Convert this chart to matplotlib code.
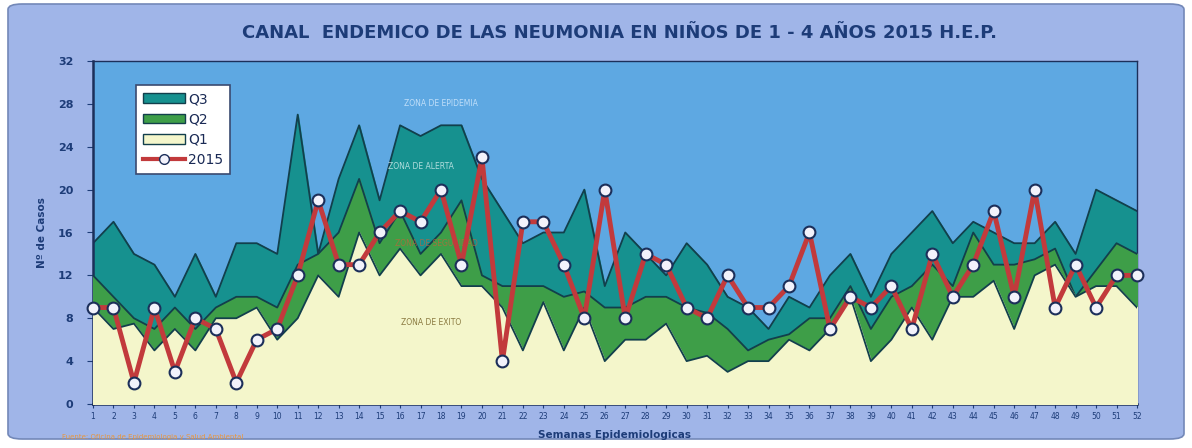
import matplotlib
matplotlib.use("Agg")
import matplotlib.pyplot as plt
from matplotlib.patches import FancyBboxPatch, Patch
from matplotlib.lines import Line2D

weeks = list(range(1, 53))
q3 = [15, 17, 14, 13, 10, 14, 10, 15, 15, 14,
      27, 14, 21, 26, 19, 26, 25, 26, 26, 21,
      18, 15, 16, 16, 20, 11, 16, 14, 12, 15,
      13, 10, 9, 7, 10, 9, 12, 14, 10, 14,
      16, 18, 15, 17, 16, 15, 15, 17, 14, 20,
      19, 18]
q2 = [12, 10, 8, 7, 9, 7, 9, 10, 10, 9,
      13, 14, 16, 21, 15, 18, 14, 16, 19, 12,
      11, 11, 11, 10, 10.5, 9, 9, 10, 10, 9,
      8.5, 7, 5, 6, 6.5, 8, 8, 11, 7, 10,
      11, 13, 11, 16, 13, 13, 13.5, 14.5, 10, 12.5,
      15, 14]
q1 = [9, 7, 7.5, 5, 7, 5, 8, 8, 9, 6,
      8, 12, 10, 16, 12, 14.5, 12, 14, 11, 11,
      9, 5, 9.5, 5, 9, 4, 6, 6, 7.5, 4,
      4.5, 3, 4, 4, 6, 5, 7, 10, 4, 6,
      9, 6, 10, 10, 11.5, 7, 12, 13, 10, 11,
      11, 9]
y2015 = [9, 9, 2, 9, 3, 8, 7, 2, 6, 7,
         12, 19, 13, 13, 16, 18, 17, 20, 13, 23,
         4, 17, 17, 13, 8, 20, 8, 14, 13, 9,
         8, 12, 9, 9, 11, 16, 7, 10, 9, 11,
         7, 14, 10, 13, 18, 10, 20, 9, 13, 9,
         12, 12]
yticks = [0, 4, 8, 12, 16, 20, 24, 28, 32]

title = "CANAL  ENDEMICO DE LAS NEUMONIA EN NIÑOS DE 1 - 4 AÑOS 2015 H.E.P."
navy = "#1d3c78"
c_panel = "#a0b5e8"
c_plot = "#5ea8e2"
c_q3 = "#16918f"
c_q2 = "#3e9e48"
c_q1 = "#f4f6cb"
c_edge = "#123f4c"
c_red = "#c23a3c"

fig = plt.figure(figsize=(11.92, 4.48), dpi=100)
fig.patch.set_facecolor("white")
panel = FancyBboxPatch((8 / 1192, 9 / 448), 1176 / 1192, 435 / 448,
                       boxstyle="round,pad=0,rounding_size=0.012",
                       transform=fig.transFigure, facecolor=c_panel,
                       edgecolor="#7388b8", linewidth=1.2, zorder=-5)
fig.patches.append(panel)

ax = fig.add_axes([93 / 1192, 44 / 448, 1044 / 1192, 343 / 448])
ax.set_zorder(2)
ax.set_facecolor(c_plot)

ax.fill_between(weeks, 0, q3, color=c_q3, zorder=1)
ax.plot(weeks, q3, color=c_edge, lw=1.3, zorder=2)
ax.fill_between(weeks, 0, q2, color=c_q2, zorder=3)
ax.plot(weeks, q2, color=c_edge, lw=1.3, zorder=4)
ax.fill_between(weeks, 0, q1, color=c_q1, zorder=5)
ax.plot(weeks, q1, color=c_edge, lw=1.3, zorder=6)
ax.plot(weeks, y2015, color=c_red, lw=3.5, marker="o", ms=8.5,
        markerfacecolor="#f2f2fb", markeredgecolor="#1c2f5a",
        markeredgewidth=1.5, zorder=8, clip_on=False)

ax.text(18.0, 28.0, "ZONA DE EPIDEMIA", color="#d8ecff", fontsize=5.5,
        ha="center", va="center", alpha=0.8, zorder=7)
ax.text(17.0, 22.2, "ZONA DE ALERTA", color="#d8f0f0", fontsize=5.5,
        ha="center", va="center", alpha=0.8, zorder=7)
ax.text(17.8, 15.0, "ZONA DE SEGURIDAD", color="#c8603a", fontsize=5.5,
        ha="center", va="center", alpha=0.7, zorder=7)
ax.text(17.5, 7.6, "ZONA DE EXITO", color="#8a7a40", fontsize=5.5,
        ha="center", va="center", zorder=7)

ax.set_xlim(1, 52)
ax.set_ylim(0, 32)
ax.set_yticks(yticks)
ax.set_yticklabels([str(v) for v in yticks], fontsize=8, color=navy,
                   fontweight="bold")
ax.set_xticks(weeks)
ax.set_xticklabels([str(w) for w in weeks], fontsize=5.5, color=navy)
ax.tick_params(axis="y", length=4, color=navy, pad=10)
ax.tick_params(axis="x", length=3, color=navy, pad=3)
for s in ax.spines.values():
    s.set_color("#1c2f5a")
    s.set_linewidth(1.0)
ax.spines["left"].set_linewidth(1.8)
ax.spines["bottom"].set_linewidth(1.8)

ax.set_ylabel("Nº de Casos", fontsize=7.5, color=navy, fontweight="bold",
              labelpad=8)
ax.set_xlabel("Semanas Epidemiologicas", fontsize=7.5, color=navy,
              fontweight="bold", labelpad=6)

fig.text(620 / 1192, 1 - 33 / 448, title, ha="center", va="center",
         fontsize=13, fontweight="bold", color=navy)
fig.text(62 / 1192, 1 - 437 / 448,
         "Fuente: Oficina de Epidemiologia y Salud Ambiental",
         fontsize=5, color="#e8963c", ha="left", va="center")

handles = [Patch(facecolor=c_q3, edgecolor=c_edge, label="Q3"),
           Patch(facecolor=c_q2, edgecolor=c_edge, label="Q2"),
           Patch(facecolor=c_q1, edgecolor=c_edge, label="Q1"),
           Line2D([0], [0], color=c_red, lw=3, marker="o", ms=7,
                  markerfacecolor="#f2f2fb", markeredgecolor="#1c2f5a",
                  label="2015")]
leg = ax.legend(handles=handles, loc="upper left",
                bbox_to_anchor=(0.035, 0.95), fontsize=10, frameon=True,
                fancybox=False, edgecolor="#3a4a70", facecolor="white",
                framealpha=1, handlelength=3.0, handleheight=0.7,
                labelspacing=0.45, borderpad=0.5, handletextpad=0.2)
leg.set_zorder(10)
leg.get_frame().set_linewidth(1.2)
for t in leg.get_texts():
    t.set_color("#1a2a55")

fig.savefig("out.png", dpi=100)
